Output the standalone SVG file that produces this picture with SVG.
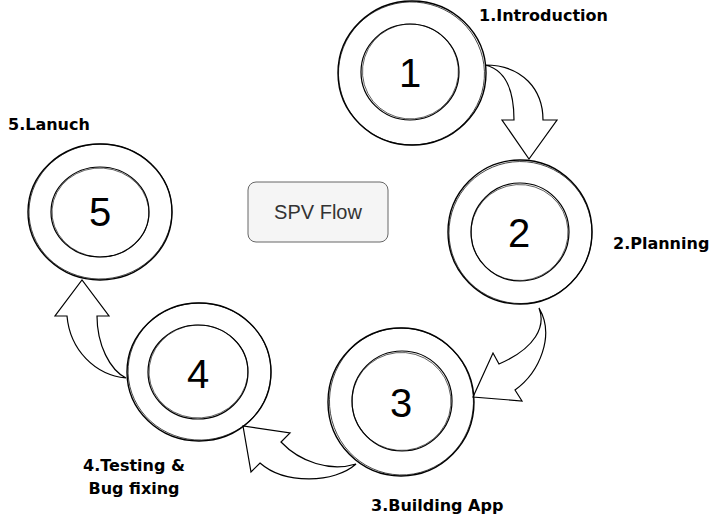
<svg xmlns="http://www.w3.org/2000/svg" width="726" height="521" viewBox="0 0 726 521">
<defs>
<style>
.o{fill:none;stroke:#000;stroke-width:1.4}
.o2{fill:none;stroke:#000;stroke-width:0.7}
.i{fill:none;stroke:#000;stroke-width:1.2}
.i2{fill:none;stroke:#000;stroke-width:0.6}
.num{font-family:"Liberation Sans",Arial,sans-serif;font-size:40px;fill:#000;text-anchor:middle}
.lbl{font-family:"DejaVu Sans",Helvetica,sans-serif;font-size:16px;font-weight:bold;fill:#000}
.arr{fill:#fff;stroke:#000;stroke-width:1.2;stroke-linejoin:miter}
</style>
</defs>
<rect width="726" height="521" fill="#fff"/>
<g id="connectors">
<path class="arr" d="M485,65 C507,70 514,93 514,120 L502,120 L529,159 L557,120 L543,120 C543,90 523,65 485,65 Z"/>
<path class="arr" d="M539,308 C546,326 536,348 499,364 L493,353 L473,397 L522,401 L515,390 C540,372 555,335 539,308 Z"/>
<path class="arr" d="M356,464 C330,472 300,462 281,442 L290,433 L243,426 L251,472 L260,463 C285,485 335,483 356,464 Z"/>
<path class="arr" d="M126,378 C95,375 70,350 67,316 L55,316 L82,280 L109,316 L97,316 C97,345 110,370 126,378 Z"/>
</g>
<g id="node1">
<ellipse class="o" cx="412" cy="73" rx="74" ry="72"/>
<ellipse class="o2" cx="411.5" cy="73.5" rx="73" ry="71.5" transform="rotate(4 412 73)"/>
<ellipse class="i" cx="410" cy="72" rx="49" ry="48"/>
<ellipse class="i2" cx="410.5" cy="71.5" rx="48" ry="47.5" transform="rotate(-5 410 72)"/>
<text class="num" x="410" y="87">1</text>
</g>
<g id="node2">
<ellipse class="o" cx="520" cy="232" rx="72" ry="72"/>
<ellipse class="o2" cx="520.5" cy="232.5" rx="71.5" ry="71" transform="rotate(5 520 232)"/>
<ellipse class="i" cx="520" cy="232" rx="49" ry="49"/>
<ellipse class="i2" cx="519.5" cy="232.5" rx="48.5" ry="48" transform="rotate(-4 520 232)"/>
<text class="num" x="519" y="247">2</text>
</g>
<g id="node3">
<ellipse class="o" cx="401" cy="402" rx="73" ry="74"/>
<ellipse class="o2" cx="401.5" cy="401.5" rx="72" ry="73.5" transform="rotate(-4 401 402)"/>
<ellipse class="i" cx="402" cy="401" rx="50" ry="50"/>
<ellipse class="i2" cx="401.5" cy="401.5" rx="49.5" ry="49" transform="rotate(5 402 401)"/>
<text class="num" x="401" y="417">3</text>
</g>
<g id="node4">
<ellipse class="o" cx="199" cy="372" rx="72" ry="69"/>
<ellipse class="o2" cx="199.5" cy="371.5" rx="71.5" ry="68.5" transform="rotate(4 199 372)"/>
<ellipse class="i" cx="198" cy="372" rx="50" ry="47"/>
<ellipse class="i2" cx="198.5" cy="371.5" rx="49.5" ry="46.5" transform="rotate(-4 198 372)"/>
<text class="num" x="198" y="388">4</text>
</g>
<g id="node5">
<ellipse class="o" cx="100" cy="212" rx="72" ry="68"/>
<ellipse class="o2" cx="100.5" cy="211.5" rx="71.5" ry="67.5" transform="rotate(-4 100 212)"/>
<ellipse class="i" cx="100" cy="212" rx="49" ry="45"/>
<ellipse class="i2" cx="100.5" cy="212.5" rx="48.5" ry="44.5" transform="rotate(4 100 212)"/>
<text class="num" x="100" y="226">5</text>
</g>
<g id="title">
<rect x="248" y="182" width="140" height="60" rx="8" ry="8" fill="#f5f5f5" stroke="#666" stroke-width="1"/>
<text x="318" y="219" font-family="'Liberation Sans',Arial,sans-serif" font-size="20" fill="#333" text-anchor="middle">SPV Flow</text>
</g>
<g id="labels">
<text class="lbl" x="479" y="21">1.Introduction</text>
<text class="lbl" x="613" y="249">2.Planning</text>
<text class="lbl" x="371" y="511">3.Building App</text>
<text class="lbl" x="134" y="471" text-anchor="middle">4.Testing &amp;</text>
<text class="lbl" x="134" y="494" text-anchor="middle">Bug fixing</text>
<text class="lbl" x="8" y="130">5.Lanuch</text>
</g>
</svg>
